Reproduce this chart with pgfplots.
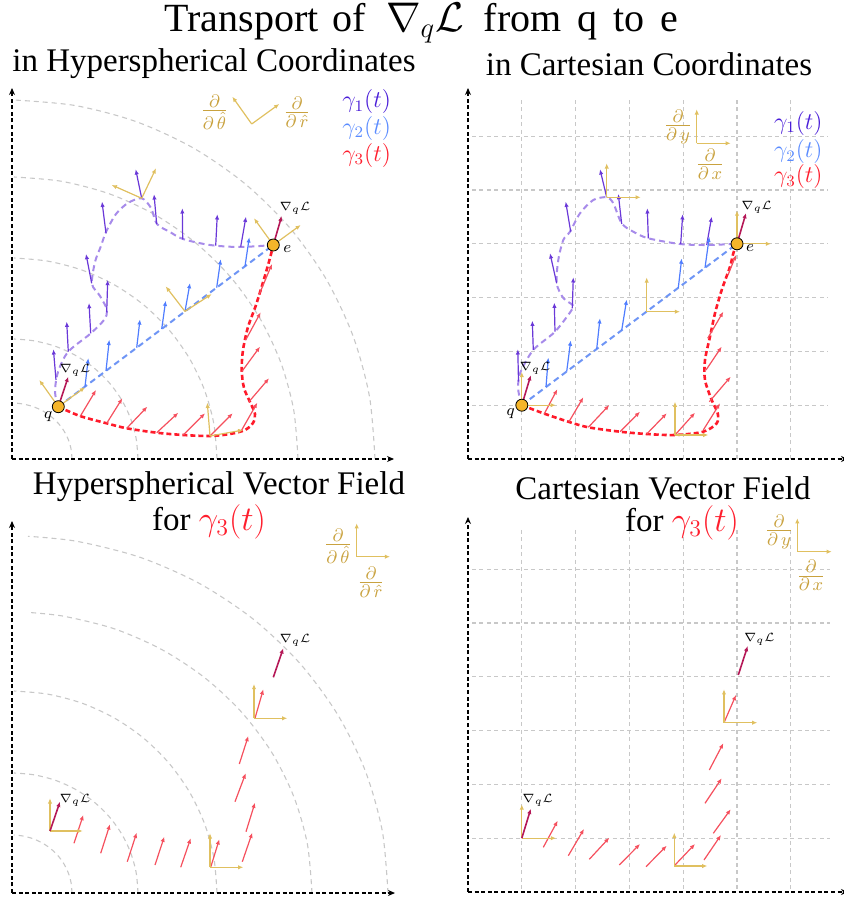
\documentclass[border=0pt]{standalone}
\usepackage{fontspec}
\setmainfont{Liberation Serif}
\usepackage{pgfplots}
\pgfplotsset{compat=1.18}
\usetikzlibrary{arrows.meta}
\definecolor{gold}{HTML}{E0C060}
\definecolor{goldtxt}{HTML}{C9A23F}
\definecolor{gone}{HTML}{4A1ED8}
\definecolor{garrA}{HTML}{6A38D8}
\definecolor{gpathA}{HTML}{A78BEA}
\definecolor{gtwo}{HTML}{5B8CFF}
\definecolor{garrB}{HTML}{4F7DFF}
\definecolor{gpathB}{HTML}{6E95F5}
\definecolor{gthree}{HTML}{FF1E2D}
\definecolor{garrC}{HTML}{F5505E}
\definecolor{gpathC}{HTML}{FF1A2A}
\definecolor{nablac}{HTML}{B51857}
\definecolor{gridc}{HTML}{C8C8C8}
\definecolor{qfill}{HTML}{F5B52A}
\pgfplotsset{
  panel/.style={hide axis, clip=false, scale only axis, y dir=reverse, enlargelimits=false,
    width=210.75pt, anchor=south west},
  vec/.style={quiver={u=\thisrow{u},v=\thisrow{v}}, -{Latex[length=2.6pt,width=2.2pt]}, line width=0.6pt},
  axarrow/.style={black, line width=0.7pt, dash pattern=on 2pt off 1.3pt, -{Stealth[length=3.5pt,width=3pt]}},
  arcl/.style={gridc, line width=0.55pt, dash pattern=on 2.5pt off 2pt, smooth},
  gridl/.style={gridc, line width=0.55pt, dash pattern=on 2pt off 1.7pt},
  qdot/.style={only marks, mark=*, mark size=3pt, mark options={fill=qfill, draw=black, line width=0.4pt}},
  pA/.style={gpathA, line width=1pt, dash pattern=on 3pt off 2pt, smooth},
  pB/.style={gpathB, line width=1pt, dash pattern=on 3pt off 2pt},
  pC/.style={gpathC, line width=1.3pt, dash pattern=on 2.5pt off 1.5pt, smooth},
}
\tikzset{
  ttl/.style={font=\fontsize{16.5}{19}\selectfont, inner sep=0pt},
  lg/.style={font=\fontsize{12}{14}\selectfont, inner sep=0pt},
  fr/.style={font=\fontsize{12.5}{14}\selectfont, inner sep=0pt, text=goldtxt},
  nb/.style={font=\fontsize{6}{7}\selectfont, inner sep=0pt},
  pt/.style={font=\fontsize{8.5}{10}\selectfont, inner sep=0pt},
}
\begin{document}
\begin{tikzpicture}
%================ TOP LEFT ================
\begin{axis}[panel, xmin=0, xmax=421.5, ymin=0, ymax=460, height=230pt, at={(0pt,220.5pt)}]
\addplot[arcl] coordinates {(72,459)(71.1,449.3)(68.4,439.8)(64,431)(58,423)(50.6,416.1)(42,410.5)(32.5,406.4)(22.4,403.9)(14,403)};
\addplot[arcl] coordinates {(138,459)(136.1,438.2)(130.4,418)(121.1,399)(108.5,381.9)(93,367.1)(75,355.1)(55.1,346.2)(33.9,340.8)(14,339)};
\addplot[arcl] coordinates {(217,459)(213.9,424.1)(204.6,390.3)(189.5,358.5)(169,329.8)(143.8,305)(114.5,284.9)(82.1,270.1)(47.6,261.1)(14,258)};
\addplot[arcl] coordinates {(298,459)(293.7,410)(280.8,362.6)(259.7,318)(231.1,277.7)(195.8,243)(155,214.8)(109.8,194)(61.6,181.3)(14,177)};
\addplot[arcl] coordinates {(375,459)(369.5,396.7)(353.1,336.2)(326.4,279.5)(290.1,228.2)(245.3,184)(193.5,148.1)(136.1,121.6)(75,105.5)(14,100)};
\addplot[axarrow] coordinates {(12,459)(12,88)};
\addplot[axarrow] coordinates {(12,459)(394,459)};
\addplot[qdot] coordinates {(58.3,406.7)(273.3,245)};
\addplot[pA] coordinates {(58.3,406.7)(55,392)(58,372)(68,352)(90,334)(104,320)(107,310)(100,296)(92,284)(95,262)(101,246)(106,232)(116,214)(128,203)(141.7,198.3)(151,208)(157,224)(170,232)(183,239)(210,245)(240,247)(273.3,245)};
\addplot[pB] coordinates {(58.3,406.7)(273.3,245)};
\addplot[pC] coordinates {(58.3,406.7)(80,416)(106.7,423.3)(126.7,428.3)(156.7,432.7)(183.3,435)(210,436)(230,434)(245,430)(253,423)(255,414)(250,402)(244,388)(241.7,370)(243,350)(248,327)(256,305)(264,279)(270,258)(273.3,245)};
\addplot[vec, garrA] table {
x y u v
56 380 -2.6 -30.7
68.3 351.7 -1.6 -30
90.7 333.3 -1.7 -30.3
106.7 312.3 1 -32.3
91.7 283.3 -5.7 -29.3
106 233.3 -4 -31.6
141.7 198.3 -6 -29
156.7 224 -2.7 -29.7
182.7 239.3 -0.4 -31
215.7 245.7 1.6 -31.4
240.7 246.7 5.3 -30
};
\addplot[vec, garrB] table {
x y u v
85 386.6 3.3 -28.4
106 370.8 3.3 -31
136.7 347.7 3.3 -28.3
161.7 329 4 -28.3
185 311.4 5 -28.3
216.7 287.6 4 -28.3
245 266.3 4.3 -29
};
\addplot[vec, garrC] table {
x y u v
80 416.7 16 -26.7
106.7 423.3 15.6 -25
126.7 428.3 20.6 -21.6
156.7 432.7 21.6 -20
183.3 435 21.7 -21.7
210 436 22.7 -22.7
241.7 430 15.6 -27.3
249 401.7 20 -23.4
241.7 371.7 18.3 -25
245.7 340 15 -27.7
259 295 13 -31
};
\addplot[vec, gold] table {
x y u v
58.3 406.7 -19 -26.7
58.3 406.7 26.7 -19.4
141.7 198.3 -30 -13.3
141.7 198.3 14.3 -30
185 311.4 -19.3 -25
185 311.4 26.7 -17.3
210 436 -2.7 -33.3
210 436 33.3 -6
273.3 245 -19.3 -26.7
273.3 245 27.4 -20
251.7 124 -19.4 -27.3
251.7 124 27.6 -20
};
\addplot[vec, nablac, line width=0.8pt] table {
x y u v
58.3 406.7 10 -30
273.3 245 8.4 -29
};
\node[font=\fontsize{20}{23}\selectfont, inner sep=0pt] at (axis cs:421.5,23) {Transport\hspace{2pt} of\hspace{5pt} $\nabla_q\mathcal{L}$\hspace{5pt} from\hspace{3pt} q\hspace{3pt} to\hspace{3pt} e};
\node[ttl] at (axis cs:214,64) {in Hyperspherical Coordinates};
\node[lg, text=gone] at (axis cs:366.7,101.7) {$\gamma_1(t)$};
\node[lg, text=gtwo] at (axis cs:366.7,128.3) {$\gamma_2(t)$};
\node[lg, text=gthree] at (axis cs:366.7,155) {$\gamma_3(t)$};
\node[fr] at (axis cs:214.5,112) {$\frac{\partial}{\partial\,\hat{\theta}}$};
\node[fr] at (axis cs:297,112) {$\frac{\partial}{\partial\,\hat{r}}$};
\node[nb] at (axis cs:75,370) {$\nabla_q\mathcal{L}$};
\node[nb] at (axis cs:295,208) {$\nabla_q\mathcal{L}$};
\node[pt] at (axis cs:48.3,416.7) {$q$};
\node[pt] at (axis cs:287.3,249.3) {$e$};
\end{axis}
%================ TOP RIGHT ================
\begin{axis}[panel, xmin=421.5, xmax=843, ymin=0, ymax=460, height=230pt, at={(210.75pt,220.5pt)}]
\addplot[gridl] coordinates {(521.8,100)(521.8,459)};
\addplot[gridl] coordinates {(575.6,100)(575.6,459)};
\addplot[gridl] coordinates {(629.4,100)(629.4,459)};
\addplot[gridl] coordinates {(683.2,100)(683.2,459)};
\addplot[gridl] coordinates {(737,100)(737,459)};
\addplot[gridl] coordinates {(790.8,100)(790.8,459)};
\addplot[gridl] coordinates {(472,405.2)(828,405.2)};
\addplot[gridl] coordinates {(472,351.4)(828,351.4)};
\addplot[gridl] coordinates {(472,297.6)(828,297.6)};
\addplot[gridl] coordinates {(472,243.8)(828,243.8)};
\addplot[gridl] coordinates {(472,190)(828,190)};
\addplot[gridl] coordinates {(472,136.2)(828,136.2)};
\addplot[axarrow] coordinates {(468,459)(468,88)};
\addplot[axarrow] coordinates {(468,459)(848,459)};
\addplot[qdot] coordinates {(521.8,405.2)(737,243.8)};
\addplot[pA] coordinates {(521.8,405.2)(518.3,390)(520,373.3)(533.3,350)(555,331.7)(571.7,310)(572.5,305)(563.3,298)(556.7,283.3)(558.3,260)(563.3,240)(570,231.7)(580,213.3)(593.3,200)(606.7,197.3)(613.3,203.3)(621.7,223.3)(633.3,231.7)(648.3,238.3)(680,244)(706.7,245)(737,243.8)};
\addplot[pB] coordinates {(521.8,405.2)(737,243.8)};
\addplot[pC] coordinates {(521.8,405.2)(543.3,413.3)(568.3,421.7)(588.3,427.3)(620,431.7)(646.7,434)(675,435)(703.3,431.7)(716.7,423.3)(717.7,413.3)(711.7,400)(705,380)(705,360)(710,336.7)(715,313.3)(721.7,290)(730,266.7)(733.3,253.3)(737,243.8)};
\addplot[vec, garrA] table {
x y u v
518.5 381.7 -0.7 -32.4
533.3 350 -1 -29.3
555 331.7 -0.7 -29
572.3 308.3 1 -31
556.7 283.3 -6.7 -30
570.7 231.7 -5 -30
606.7 197.3 -6.7 -28
621.7 224 -3.4 -30
648.3 238.3 -1 -30
680.7 244 2 -29.7
706.7 245 5 -28.3
};
\addplot[vec, garrB] table {
x y u v
546 387 2.3 -29.4
566.7 371.5 4 -31
596.7 349 3.3 -30.7
621.7 330.3 5 -30.7
678.3 287.8 3.4 -29.3
705 267.8 4.3 -31
};
\addplot[vec, garrC] table {
x y u v
544 414.3 13.3 -25
569 421.7 14.3 -24.4
588.3 427.3 21 -22.3
620 431.7 20 -20
646.7 434 20 -20.7
675 435 20 -22.3
703.3 430 16.7 -26.7
709.3 401.7 21.4 -25
706 370 15.7 -23.3
707.7 338.3 15.6 -26.6
728 275 8 -20
};
\addplot[vec, gold] table {
x y u v
521.8 405.2 0 -33.3
521.8 405.2 34 0
606.7 197.3 0 -34
606.7 197.3 34 0
646.7 311.7 0 -34.3
646.7 311.7 33.3 0
675 435 0 -33.3
675 435 33.3 0
737 243.8 0 -33.3
737 243.8 34 0
696.7 143.3 0 -34
696.7 143.3 34 0
};
\addplot[vec, nablac, line width=0.8pt] table {
x y u v
521.8 405.2 9 -30
737 243.8 9 -30.7
};
\node[ttl] at (axis cs:649,64) {in Cartesian Coordinates};
\node[lg, text=gone] at (axis cs:798.3,123.3) {$\gamma_1(t)$};
\node[lg, text=gtwo] at (axis cs:798.3,151.7) {$\gamma_2(t)$};
\node[lg, text=gthree] at (axis cs:798.3,176.7) {$\gamma_3(t)$};
\node[fr] at (axis cs:678,126.7) {$\frac{\partial}{\partial\,y}$};
\node[fr] at (axis cs:710,164) {$\frac{\partial}{\partial\,x}$};
\node[nb] at (axis cs:535,368) {$\nabla_q\mathcal{L}$};
\node[nb] at (axis cs:756.7,207.7) {$\nabla_q\mathcal{L}$};
\node[pt] at (axis cs:510.7,413.3) {$q$};
\node[pt] at (axis cs:750,248.3) {$e$};
\end{axis}
%================ BOTTOM LEFT ================
\begin{axis}[panel, xmin=0, xmax=421.5, ymin=460, ymax=901, height=220.5pt, at={(0pt,0pt)}]
\addplot[arcl] coordinates {(72,893)(71.1,882.9)(68.4,873.2)(64,864)(58,855.7)(50.6,848.6)(42,842.8)(32.5,838.5)(22.4,835.9)(14,835)};
\addplot[arcl] coordinates {(138,893)(136.1,872.2)(130.4,852)(121.1,833)(108.5,815.9)(93,801.1)(75,789.1)(55.1,780.2)(33.9,774.8)(14,773)};
\addplot[arcl] coordinates {(217,893)(213.9,857.9)(204.6,823.9)(189.5,792)(169,763.2)(143.8,738.3)(114.5,718.1)(82.1,703.2)(47.6,694.1)(14,691)};
\addplot[arcl] coordinates {(312,893)(307.4,844.2)(293.9,796.9)(271.8,752.5)(241.8,712.4)(204.8,677.8)(162,649.7)(114.6,628.9)(64.1,616.3)(28,612.4)};
\addplot[arcl] coordinates {(388,893)(382.3,831)(365.3,770.9)(337.6,714.5)(300,663.5)(253.7,619.5)(200,583.8)(140.6,557.5)(77.3,541.4)(28,536.3)};
\addplot[axarrow] coordinates {(12,893)(12,521)};
\addplot[axarrow] coordinates {(12,893)(395,893)};
\addplot[vec, garrC] table {
x y u v
74 843.3 9.3 -28.3
100.7 853.3 9.3 -29
127.3 861.7 9.4 -29
155 865 9.3 -28.3
180.7 867.3 10 -29
210.7 867.3 8.6 -28
242.3 861.7 10 -29
246 831.7 9 -29
235 801.7 10.7 -28.4
239.3 764 9 -28
255 718.3 8.3 -29
};
\addplot[vec, gold] table {
x y u v
50 831 0 -32.7
50 831 32.7 0
210 867.3 0 -34
210 867.3 33.3 0
254 718.3 0 -34.3
254 718.3 33.3 0
356.7 556.7 0 -33.4
356.7 556.7 33.3 0
};
\addplot[vec, nablac, line width=0.8pt] table {
x y u v
50 831 10 -29.3
273.3 677.3 10 -29
};
\node[ttl] at (axis cs:219,487) {Hyperspherical Vector Field};
\node[ttl] at (axis cs:209,522) {for \textcolor{gthree}{$\gamma_3(t)$}};
\node[fr] at (axis cs:338,546) {$\frac{\partial}{\partial\,\hat{\theta}}$};
\node[fr] at (axis cs:371,582) {$\frac{\partial}{\partial\,\hat{r}}$};
\node[nb] at (axis cs:75,800.7) {$\nabla_q\mathcal{L}$};
\node[nb] at (axis cs:295,640) {$\nabla_q\mathcal{L}$};
\end{axis}
%================ BOTTOM RIGHT ================
\begin{axis}[panel, xmin=421.5, xmax=843, ymin=460, ymax=901, height=220.5pt, at={(210.75pt,0pt)}]
\addplot[gridl] coordinates {(521.8,530)(521.8,892)};
\addplot[gridl] coordinates {(575.6,530)(575.6,892)};
\addplot[gridl] coordinates {(629.4,530)(629.4,892)};
\addplot[gridl] coordinates {(683.2,530)(683.2,892)};
\addplot[gridl] coordinates {(737,530)(737,892)};
\addplot[gridl] coordinates {(790.8,530)(790.8,892)};
\addplot[gridl] coordinates {(472,838.2)(830,838.2)};
\addplot[gridl] coordinates {(472,784.4)(830,784.4)};
\addplot[gridl] coordinates {(472,730.6)(830,730.6)};
\addplot[gridl] coordinates {(472,676.8)(830,676.8)};
\addplot[gridl] coordinates {(472,623)(830,623)};
\addplot[gridl] coordinates {(472,569.2)(830,569.2)};
\addplot[axarrow] coordinates {(468,892)(468,517)};
\addplot[axarrow] coordinates {(468,892)(848,892)};
\addplot[vec, garrC] table {
x y u v
543.3 847.3 14.4 -26.6
568.3 855.7 15.7 -26.7
589.3 859.3 20 -21.6
619.3 865 20.7 -21
646 866.7 20.7 -21
675 865 20 -21
704 860 17 -25
713.3 833.3 17.4 -24
705 803.3 16.7 -25
709.3 770 14 -26.7
724 722.7 12 -27.7
};
\addplot[vec, gold] table {
x y u v
521.8 838.2 0 -33.7
521.8 838.2 34.3 0
674.3 866 0 -33.3
674.3 866 33 0
724 722.7 0 -33.4
724 722.7 33.3 0
797.3 551.7 0 -33.4
797.3 551.7 34.4 0
};
\addplot[vec, nablac, line width=0.8pt] table {
x y u v
521.8 838.2 9 -29.4
738.3 675 9.4 -29
};
\node[ttl] at (axis cs:663,488) {Cartesian Vector Field};
\node[ttl] at (axis cs:682,523) {for \textcolor{gthree}{$\gamma_3(t)$}};
\node[fr] at (axis cs:779,531.7) {$\frac{\partial}{\partial\,y}$};
\node[fr] at (axis cs:811,575.5) {$\frac{\partial}{\partial\,x}$};
\node[nb] at (axis cs:537.7,800.7) {$\nabla_q\mathcal{L}$};
\node[nb] at (axis cs:759.3,639.3) {$\nabla_q\mathcal{L}$};
\end{axis}
\pgfresetboundingbox
\useasboundingbox (0,0) rectangle (421.5pt,450.5pt);
\end{tikzpicture}
\end{document}
